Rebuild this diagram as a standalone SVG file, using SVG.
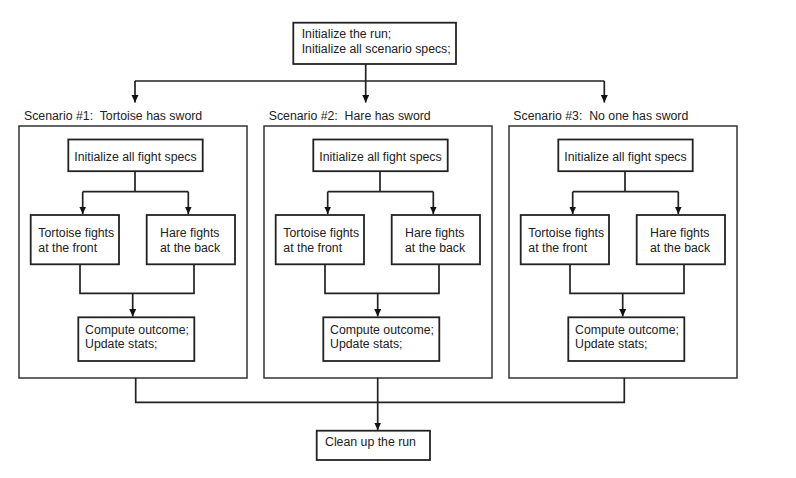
<svg xmlns="http://www.w3.org/2000/svg" width="796" height="478" viewBox="0 0 796 478">
<style>
.box{fill:#fff;stroke:#222;stroke-width:1.8}
.scen{fill:#fff;stroke:#333;stroke-width:1.5}
.t{font-family:"Liberation Sans",Arial,sans-serif;font-size:12.3px;fill:#222;white-space:pre}
.c{fill:none;stroke:#222;stroke-width:1.7}
</style>
<defs>
<marker id="ah" markerUnits="userSpaceOnUse" markerWidth="8" markerHeight="8" refX="7.5" refY="3.5" orient="auto"><path d="M0,0 L7.5,3.5 L0,7 z" fill="#111"/></marker>
<g id="scenario">
<rect class="scen" x="19" y="126" width="228" height="252"/>
<rect class="box" x="68.3" y="139.5" width="134.4" height="31.7"/>
<text class="t" x="135.5" y="161" text-anchor="middle">Initialize all fight specs</text>
<rect class="box" x="30.7" y="215" width="88.3" height="49.3"/>
<text class="t" x="38.3" y="237">Tortoise fights</text>
<text class="t" x="38.3" y="251.6">at the front</text>
<rect class="box" x="146.7" y="215" width="88.3" height="49.3"/>
<text class="t" x="160" y="237">Hare fights</text>
<text class="t" x="160" y="251.6">at the back</text>
<rect class="box" x="78.3" y="317.3" width="116" height="43.7"/>
<text class="t" x="85" y="333.6">Compute outcome;</text>
<text class="t" x="85" y="347.6">Update stats;</text>
<path class="c" d="M135,171.2 V191.7 M82.7,191.7 H188.3 M80,264.3 V293.3 H194 V264.3"/>
<path class="c" d="M82.7,191.7 V214" marker-end="url(#ah)"/>
<path class="c" d="M188.3,191.7 V214" marker-end="url(#ah)"/>
<path class="c" d="M132.7,293.3 V316.5" marker-end="url(#ah)"/>
</g>
</defs>
<rect width="796" height="478" fill="#fff"/>
<g id="init-run">
<rect class="box" x="293.3" y="22.7" width="162.7" height="41.3"/>
<text class="t" x="301.7" y="38.3">Initialize the run;</text>
<text class="t" x="301.7" y="53.3">Initialize all scenario specs;</text>
</g>
<g id="scenario-1">
<text class="t" x="24" y="120" xml:space="preserve">Scenario #1:  Tortoise has sword</text>
<use href="#scenario"/>
</g>
<g id="scenario-2">
<text class="t" x="268.7" y="120" xml:space="preserve">Scenario #2:  Hare has sword</text>
<use href="#scenario" x="245"/>
</g>
<g id="scenario-3">
<text class="t" x="513.3" y="120" xml:space="preserve">Scenario #3:  No one has sword</text>
<use href="#scenario" x="490"/>
</g>
<g id="cleanup">
<rect class="box" x="316.7" y="430.7" width="113.3" height="29.3"/>
<text class="t" x="325" y="446">Clean up the run</text>
</g>
<g id="connectors">
<path class="c" d="M135,81 H604.3"/>
<path class="c" d="M365.7,64 V102.5" marker-end="url(#ah)"/>
<path class="c" d="M135,81 V102.5" marker-end="url(#ah)"/>
<path class="c" d="M604.3,81 V102.5" marker-end="url(#ah)"/>
<path class="c" d="M135.7,377.7 V402.3 H624.3 V377.7"/>
<path class="c" d="M377.7,377.7 V430" marker-end="url(#ah)"/>
</g>
</svg>
